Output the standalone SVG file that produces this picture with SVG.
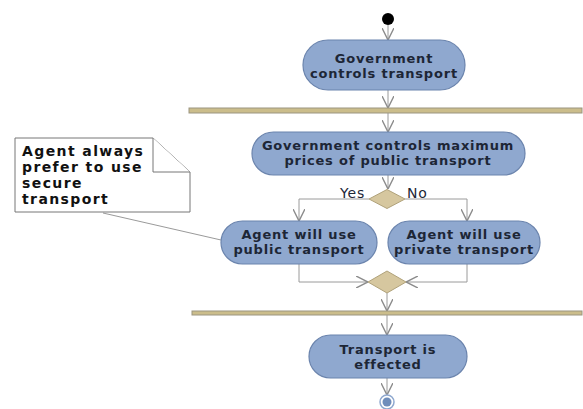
<svg xmlns="http://www.w3.org/2000/svg" width="583" height="409" viewBox="0 0 583 409">
  <defs>
    <marker id="arrow" markerUnits="userSpaceOnUse" markerWidth="12" markerHeight="12" viewBox="0 0 10 10" refX="10" refY="5" orient="auto">
      <path d="M0,0 L10,5 L0,10" fill="none" stroke="#8c8c8c" stroke-width="1.2"/>
    </marker>
    <style>
      .act { fill: #8fa8cf; stroke: #6b84ad; stroke-width: 1.2; }
      .lbl { font-family: "DejaVu Sans", sans-serif; font-weight: bold; font-size: 13px; letter-spacing: 0.8px; fill: #1d2636; text-anchor: middle; }
      .guard { font-family: "DejaVu Sans", sans-serif; font-size: 14px; letter-spacing: 0.8px; fill: #1d2636; }
      .edge { fill: none; stroke: #9a9a9a; stroke-width: 1; }
      .bar { fill: #cbbd8b; stroke: #9b9580; stroke-width: 1; }
      .dec { fill: #d6c79f; stroke: #b0a27a; stroke-width: 1; }
      .note { fill: #ffffff; stroke: #777777; stroke-width: 1; }
      .notetxt { font-family: "DejaVu Sans", sans-serif; font-weight: bold; font-size: 14px; letter-spacing: 1.4px; fill: #111111; }
    </style>
  </defs>
  <rect width="583" height="409" fill="#ffffff"/>

  <!-- connectors -->
  <g id="connectors">
    <line class="edge" x1="388" y1="25" x2="388" y2="40" marker-end="url(#arrow)"/>
    <line class="edge" x1="388" y1="90" x2="388" y2="108" marker-end="url(#arrow)"/>
    <line class="edge" x1="388" y1="113" x2="388" y2="132" marker-end="url(#arrow)"/>
    <line class="edge" x1="388" y1="175" x2="388" y2="189" marker-end="url(#arrow)"/>
    <polyline class="edge" points="369,199 299,199 299,221" marker-end="url(#arrow)"/>
    <polyline class="edge" points="405,199 467,199 467,221" marker-end="url(#arrow)"/>
    <polyline class="edge" points="299,264 299,282 368,282" marker-end="url(#arrow)"/>
    <polyline class="edge" points="467,264 467,282 406,282" marker-end="url(#arrow)"/>
    <line class="edge" x1="387" y1="293" x2="387" y2="311" marker-end="url(#arrow)"/>
    <line class="edge" x1="387" y1="315" x2="387" y2="335" marker-end="url(#arrow)"/>
    <line class="edge" x1="387" y1="378" x2="387" y2="395" marker-end="url(#arrow)"/>
    <line class="edge" x1="103" y1="213" x2="221" y2="240"/>
  </g>

  <g id="start">
    <circle cx="388" cy="19" r="6" fill="#000000"/>
  </g>

  <g id="gov-controls">
    <rect class="act" x="303" y="40" width="162" height="50" rx="25"/>
    <text class="lbl" x="384" y="63">Government</text>
    <text class="lbl" x="384" y="78">controls transport</text>
  </g>

  <g id="fork1">
    <rect class="bar" x="189" y="108" width="393" height="5"/>
  </g>

  <g id="max-prices">
    <rect class="act" x="252" y="132" width="273" height="43" rx="21.5"/>
    <text class="lbl" x="388" y="150">Government controls maximum</text>
    <text class="lbl" x="388" y="165">prices of public transport</text>
  </g>

  <g id="decision">
    <polygon class="dec" points="369,199 387,189.5 405,199 387,208.5"/>
    <text class="guard" x="340" y="198">Yes</text>
    <text class="guard" x="407" y="198">No</text>
  </g>

  <g id="public">
    <rect class="act" x="221" y="221" width="156" height="43" rx="21.5"/>
    <text class="lbl" x="299" y="239">Agent will use</text>
    <text class="lbl" x="299" y="254">public transport</text>
  </g>

  <g id="private">
    <rect class="act" x="388" y="221" width="152" height="43" rx="21.5"/>
    <text class="lbl" x="464" y="239">Agent will use</text>
    <text class="lbl" x="464" y="254">private transport</text>
  </g>

  <g id="merge">
    <polygon class="dec" points="368,282 387,271 406,282 387,293"/>
  </g>

  <g id="fork2">
    <rect class="bar" x="192" y="311" width="390" height="4"/>
  </g>

  <g id="effected">
    <rect class="act" x="309" y="335" width="158" height="43" rx="21.5"/>
    <text class="lbl" x="388" y="354">Transport is</text>
    <text class="lbl" x="388" y="369">effected</text>
  </g>

  <g id="end">
    <circle cx="387" cy="402" r="7" fill="#ffffff" stroke="#8fa8cf" stroke-width="1.5"/>
    <circle cx="387" cy="402" r="4.5" fill="#6f8dbb"/>
  </g>

  <g id="note">
    <path class="note" d="M15,138 L153,138 L190,172 L190,212 L15,212 Z"/>
    <path class="note" d="M153,138 L153,172 L190,172"/>
    <text class="notetxt" x="22" y="156">Agent always</text>
    <text class="notetxt" x="22" y="172">prefer to use</text>
    <text class="notetxt" x="22" y="188">secure</text>
    <text class="notetxt" x="22" y="204">transport</text>
  </g>
</svg>
